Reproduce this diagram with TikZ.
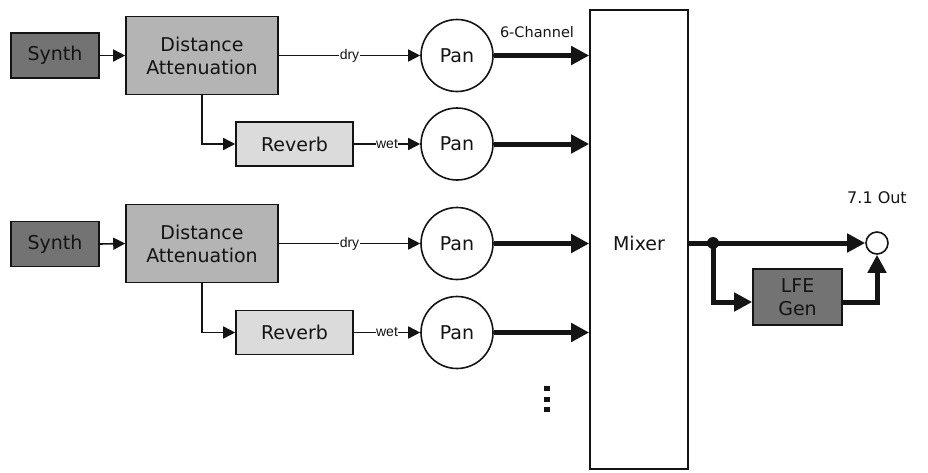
\documentclass[tikz,border=0pt]{standalone}
\usepackage{fontspec}
\setmainfont{DejaVu Sans}
\newfontfamily\lblfont{Liberation Sans}
\usetikzlibrary{arrows.meta}
\definecolor{synthgray}{HTML}{737373}
\definecolor{dagray}{HTML}{B4B4B4}
\definecolor{revgray}{HTML}{DBDBDB}
\definecolor{inkc}{HTML}{141414}
\tikzset{
  box/.style={draw=inkc, line width=1.6pt, inner sep=0pt, align=center,
    font=\fontsize{19}{23}\selectfont, text=inkc},
  synthbox/.style={box, fill=synthgray, minimum width=88pt, minimum height=45pt},
  dabox/.style={box, fill=dagray, minimum width=152pt, minimum height=78pt},
  revbox/.style={box, fill=revgray, minimum width=117pt, minimum height=44pt},
  panc/.style={box, circle, fill=white, minimum size=72pt},
  thinarrow/.style={draw=inkc, line width=1.6pt, -{Triangle[length=12pt,width=12pt]}},
  thickarrow/.style={draw=inkc, line width=5pt, -{Triangle[length=18pt,width=18pt]}},
  smalllbl/.style={font=\lblfont\fontsize{14}{16}\selectfont, fill=white, inner sep=0.5pt, text=inkc},
}
\begin{document}
\begin{tikzpicture}[x=1pt,y=-1pt]
\useasboundingbox (0,0) rectangle (928,472);

% group 1
\node[synthbox] (s1) at (55,55.5) {Synth};
\node[dabox] (d1) at (202,55.5) {Distance\\Attenuation};
\node[revbox] (r1) at (294.5,144) {Reverb};
\node[panc] (p1) at (457,55.5) {Pan};
\node[panc] (p2) at (457,144) {Pan};

% group 2
\node[synthbox] (s2) at (55,244) {Synth};
\node[dabox] (d2) at (202,243.5) {Distance\\Attenuation};
\node[revbox] (r2) at (294.5,332.5) {Reverb};
\node[panc] (p3) at (457,243.5) {Pan};
\node[panc] (p4) at (457,332.5) {Pan};

% mixer
\node[box, fill=white, minimum width=98pt, minimum height=459pt,
  label={[font=\fontsize{19}{23}\selectfont, text=inkc, yshift=-3.5pt]center:Mixer}] (mix) at (639,239.5) {};

% output section
\node[box, circle, fill=white, minimum size=22pt] (out) at (877,243) {};
\node[box, fill=synthgray, minimum width=89pt, minimum height=56pt] (lfe) at (797.5,297) {LFE\\Gen};
\node[font=\fontsize{16}{19}\selectfont, text=inkc] (outlbl) at (877,198) {7.1 Out};
\node[font=\fontsize{14.5}{17}\selectfont, text=inkc] (chan) at (537,32) {6-Channel};
\coordinate (jc) at (713,243);

% connectors group 1
\draw[thinarrow] (s1.east) -- (d1.west);
\draw[thinarrow] (d1.east) -- node[smalllbl] {dry} (p1.west);
\draw[thinarrow] (d1.south) |- (r1.west);
\draw[thinarrow] (r1.east) -- node[smalllbl] {wet} (p2.west);
\draw[thickarrow] (p1.east) -- (p1.east -| mix.west);
\draw[thickarrow] (p2.east) -- (p2.east -| mix.west);

% connectors group 2
\draw[thinarrow] (s2.east) -- (d2.west);
\draw[thinarrow] (d2.east) -- node[smalllbl] {dry} (p3.west);
\draw[thinarrow] (d2.south) |- (r2.west);
\draw[thinarrow] (r2.east) -- node[smalllbl] {wet} (p4.west);
\draw[thickarrow] (p3.east) -- (p3.east -| mix.west);
\draw[thickarrow] (p4.east) -- (p4.east -| mix.west);

% output connectors
\draw[thickarrow] (mix.east |- out) -- (out.west);
\draw[thickarrow] (jc) |- ([yshift=-5pt]lfe.west);
\draw[thickarrow] ([yshift=-5pt]lfe.east) -| (out.south);
\node[circle, fill=inkc, minimum size=12pt, inner sep=0pt] (j) at (jc) {};

% continuation dots
\fill[inkc] (544,386) rectangle +(6,5);
\fill[inkc] (544,396.5) rectangle +(6,5);
\fill[inkc] (544,407) rectangle +(6,5);
\end{tikzpicture}
\end{document}
